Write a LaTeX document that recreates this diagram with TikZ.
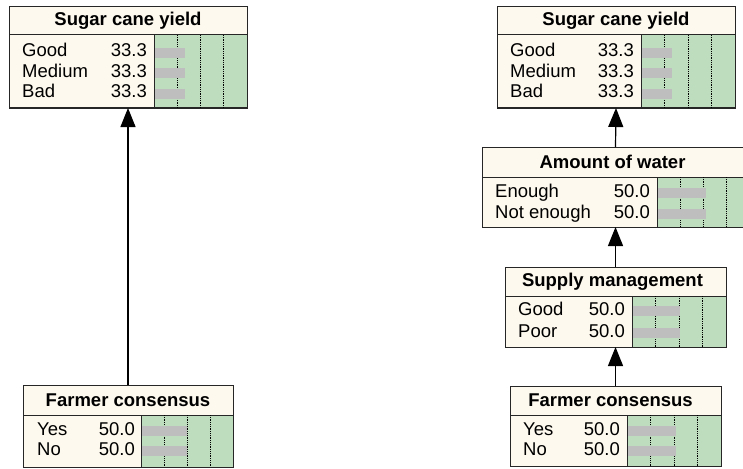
\documentclass[tikz,border=0pt]{standalone}
\usepackage{fontspec}
\setmainfont{Liberation Sans}
\usetikzlibrary{arrows.meta, positioning}
\definecolor{nodecream}{RGB}{254,249,238}
\definecolor{beliefgreen}{RGB}{190,220,190}
\definecolor{bargray}{RGB}{190,190,190}
\tikzset{%
	titlebar/.style={
		draw=black!85,
		fill=nodecream,
		line width=1pt,
		anchor=north west,
		inner sep=0pt,
		outer sep=0pt,
		font=\fontsize{18.5}{20}\selectfont\bfseries
	},
	bodybox/.style={
		draw=black!85,
		fill=nodecream,
		line width=1pt,
		anchor=north west,
		inner sep=0pt,
		outer sep=0pt
	},
	beliefbg/.style={
		draw=black!85,
		fill=beliefgreen,
		line width=1pt
	},
	gridline/.style={
		densely dotted,
		line width=0.8pt
	},
	beliefbar/.style={
		fill=bargray
	},
	statelabel/.style={
		anchor=base west,
		inner sep=0pt,
		font=\fontsize{18.5}{20}\selectfont
	},
	statevalue/.style={
		anchor=base east,
		inner sep=0pt,
		font=\fontsize{18.5}{20}\selectfont
	},
	link/.style={
		-{Triangle[length=19pt, width=15pt]},
		line width=1.2pt
	},
}
\begin{document}
\begin{tikzpicture}[x=1pt, y=-1pt]
			\clip (0,0) rectangle (743,468);
			
			% Sugar cane yield (left network)
			\node[titlebar, minimum width=238, minimum height=28] (yieldL) at (9,7) {Sugar cane yield};
			\node[bodybox, minimum width=238, minimum height=73] (yieldLb) at (yieldL.south west) {};
			\draw[beliefbg] (154,35) rectangle (yieldLb.south east);
			\foreach \q in {1,2,3}
				\draw[gridline] ({154+\q*93/4},35) -- ({154+\q*93/4},108);
			\foreach \name/\val/\yb [count=\i] in {Good/33.3/57, Medium/33.3/77.5, Bad/33.3/98} {
				\node[statelabel] (yieldL-s\i) at (22,\yb) {\name};
				\node[statevalue] (yieldL-v\i) at (147,\yb) {\val};
				\fill[beliefbar] (155,\yb-9) rectangle ({154+\val*93/100},\yb+1);
			}
			
			% Farmer consensus (left network)
			\node[titlebar, minimum width=210, minimum height=30] (farmerL) at (23,385) {Farmer consensus};
			\node[bodybox, minimum width=210, minimum height=52] (farmerLb) at (farmerL.south west) {};
			\draw[beliefbg] (141,415) rectangle (farmerLb.south east);
			\foreach \q in {1,2,3}
				\draw[gridline] ({141+\q*92/4},415) -- ({141+\q*92/4},467);
			\foreach \name/\val/\yb [count=\i] in {Yes/50.0/435, No/50.0/455} {
				\node[statelabel] (farmerL-s\i) at (37,\yb) {\name};
				\node[statevalue] (farmerL-v\i) at (135,\yb) {\val};
				\fill[beliefbar] (142,\yb-9) rectangle ({141+\val*92/100},\yb+1);
			}
			
			% Sugar cane yield (right network)
			\node[titlebar, minimum width=238, minimum height=28] (yieldR) at (497,7) {Sugar cane yield};
			\node[bodybox, minimum width=238, minimum height=73] (yieldRb) at (yieldR.south west) {};
			\draw[beliefbg] (641,35) rectangle (yieldRb.south east);
			\foreach \q in {1,2,3}
				\draw[gridline] ({641+\q*94/4},35) -- ({641+\q*94/4},108);
			\foreach \name/\val/\yb [count=\i] in {Good/33.3/57, Medium/33.3/77.5, Bad/33.3/98} {
				\node[statelabel] (yieldR-s\i) at (510,\yb) {\name};
				\node[statevalue] (yieldR-v\i) at (634,\yb) {\val};
				\fill[beliefbar] (642,\yb-9) rectangle ({641+\val*94/100},\yb+1);
			}
			
			% Amount of water
			\node[titlebar, minimum width=267, minimum height=30] (water) at (482,147) {\hspace*{-6pt}Amount of water};
			\node[bodybox, minimum width=267, minimum height=50] (waterb) at (water.south west) {};
			\draw[beliefbg] (657,177) rectangle (waterb.south east);
			\foreach \q in {1,2,3}
				\draw[gridline] ({657+\q*92/4},177) -- ({657+\q*92/4},227);
			\foreach \name/\val/\yb [count=\i] in {Enough/50.0/197, Not enough/50.0/218} {
				\node[statelabel] (water-s\i) at (495,\yb) {\name};
				\node[statevalue] (water-v\i) at (650,\yb) {\val};
				\fill[beliefbar] (658,\yb-9) rectangle ({657+\val*98/100},\yb+1);
			}
			
			% Supply management
			\node[titlebar, minimum width=221, minimum height=29] (supply) at (505,267) {\hspace*{-6pt}Supply management};
			\node[bodybox, minimum width=221, minimum height=51] (supplyb) at (supply.south west) {};
			\draw[beliefbg] (632,296) rectangle (supplyb.south east);
			\foreach \q in {1,2,3}
				\draw[gridline] ({632+\q*94/4},296) -- ({632+\q*94/4},347);
			\foreach \name/\val/\yb [count=\i] in {Good/50.0/315, Poor/50.0/337} {
				\node[statelabel] (supply-s\i) at (518,\yb) {\name};
				\node[statevalue] (supply-v\i) at (625,\yb) {\val};
				\fill[beliefbar] (633,\yb-9) rectangle ({632+\val*96/100},\yb+1);
			}
			
			% Farmer consensus (right network)
			\node[titlebar, minimum width=211, minimum height=29] (farmerR) at (510,386) {\hspace*{-10pt}Farmer consensus};
			\node[bodybox, minimum width=211, minimum height=51] (farmerRb) at (farmerR.south west) {};
			\draw[beliefbg] (627,415) rectangle (farmerRb.south east);
			\foreach \q in {1,2,3}
				\draw[gridline] ({627+\q*94/4},415) -- ({627+\q*94/4},466);
			\foreach \name/\val/\yb [count=\i] in {Yes/50.0/435, No/50.0/455} {
				\node[statelabel] (farmerR-s\i) at (523,\yb) {\name};
				\node[statevalue] (farmerR-v\i) at (620,\yb) {\val};
				\fill[beliefbar] (628,\yb-9) rectangle ({627+\val*98/100},\yb+1);
			}
			
			% Draw the arrows
			\draw[link] (farmerL.north) -- (yieldLb.south);
			\draw[link] (farmerR.north) -- (supplyb.south);
			\draw[link] (supply.north) -- (waterb.south);
			\draw[link] (water.north) -- (yieldRb.south);
		\end{tikzpicture}
\end{document}
